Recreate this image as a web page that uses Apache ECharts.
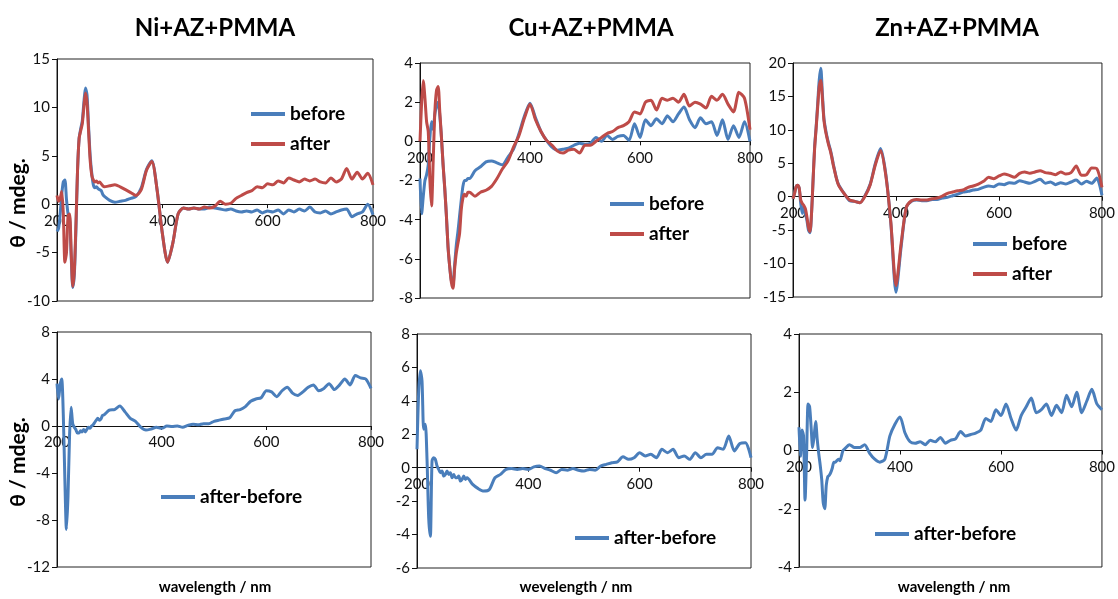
<!DOCTYPE html>
<html>
<head>
<meta charset="utf-8">
<script src="https://cdn.jsdelivr.net/npm/echarts@6/dist/echarts.min.js"></script>
<style>
  html, body { margin: 0; padding: 0; background: #fff; }
  #main { width: 1118px; height: 599px; }
</style>
</head>
<body>
<div id="main"></div>
<script>
// wavelength grid (nm)
var wavelength = [200,203,206,209,212,215,218,221,224,227,230,233,236,239,242,245,248,251,254,257,260,263,266,269,272,275,278,281,284,287,290,
  300,310,320,330,340,350,360,370,380,390,400,
  410,420,430,440,450,460,470,480,490,500,
  510,520,530,540,550,560,570,580,590,600,
  610,620,630,640,650,660,670,680,690,700,
  710,720,730,740,750,760,770,780,790,800];

// Ni+AZ+PMMA
var niBefore = [-2.8,-2.5,-1.0,1.0,2.3,2.5,0.5,-1.0,-1.5,-5.5,-8.6,-7.2,-2.5,3.5,6.8,7.8,8.6,10.5,12.0,11.3,8.0,5.0,3.2,2.0,1.7,1.8,1.6,1.5,1.4,1.0,0.8,
  0.4,0.2,0.3,0.4,0.6,0.8,1.7,3.6,4.5,1.5,-3.0,
  -6.0,-4.0,-1.0,-0.4,-0.5,-0.4,-0.5,-0.5,-0.3,-0.4,
  -0.5,-0.6,-0.5,-0.7,-0.8,-0.7,-0.8,-0.6,-0.9,-0.7,
  -0.8,-0.6,-1.0,-0.6,-0.8,-0.5,-0.7,-0.3,-0.8,-0.9,
  -0.7,-1.0,-0.8,-0.6,-0.5,-1.3,-1.0,-0.8,0.0,-1.1];
var niAfter = [0.9,0.3,0.6,1.3,-1.0,-6.0,-5.0,-1.2,-1.0,-5.0,-8.5,-6.8,-2.0,3.5,6.8,7.6,8.3,10.0,11.5,10.5,7.5,4.5,3.0,2.5,2.3,2.4,2.2,2.3,2.1,1.9,1.8,
  1.9,2.0,1.8,1.5,1.2,0.9,1.5,3.5,4.4,1.5,-3.0,
  -6.0,-4.0,-1.0,-0.4,-0.5,-0.4,-0.5,-0.3,-0.4,-0.2,
  0.3,0.0,0.1,0.6,0.9,1.2,1.4,1.8,1.7,2.1,
  2.0,2.4,2.2,2.7,2.5,2.3,2.6,2.4,2.6,2.3,
  2.2,2.7,2.3,2.6,3.7,2.6,3.3,2.6,3.2,2.0];
var niDiff = [3.6,2.3,3.5,4.0,1.0,-4.5,-8.8,-6.0,-0.8,1.6,0.2,-0.1,-0.3,-0.6,-0.6,-0.4,-0.5,-0.3,-0.5,-0.3,-0.1,-0.2,0.0,0.1,0.3,0.5,0.65,0.5,0.6,0.9,0.95,
  1.35,1.4,1.7,1.2,0.65,0.4,-0.1,-0.35,-0.25,-0.1,-0.2,
  0.0,-0.05,0.0,-0.1,0.05,0.15,0.1,0.2,0.2,0.4,
  0.5,0.6,0.7,1.3,1.4,1.65,2.1,2.3,2.4,3.0,
  2.9,2.5,3.0,3.3,2.8,2.6,2.9,3.3,3.5,3.0,
  3.2,3.6,3.1,3.5,4.0,3.5,4.3,4.1,4.0,3.2];

// Cu+AZ+PMMA
var cuBefore = [-1.9,-3.7,-2.8,-2.0,-1.7,-1.2,0.2,1.0,0.6,1.4,1.8,2.0,1.3,0.2,-1.2,-2.4,-3.8,-5.4,-6.4,-7.1,-7.3,-6.3,-5.3,-4.6,-3.8,-3.0,-2.3,-2.0,-2.0,-1.9,-1.9,
  -1.5,-1.3,-1.05,-1.0,-1.1,-1.2,-0.8,-0.4,0.4,1.3,1.95,
  1.2,0.5,0.05,-0.3,-0.45,-0.4,-0.35,-0.2,-0.1,-0.15,
  -0.1,0.2,0.0,0.3,0.1,0.25,0.3,0.05,0.9,0.2,
  1.1,0.8,1.15,0.9,1.3,1.0,1.4,1.75,1.1,0.7,
  1.2,0.9,1.0,0.3,1.1,0.1,0.8,0.2,1.0,0.0];
var cuAfter = [0.0,2.0,3.1,2.2,1.0,0.5,-2.0,-3.3,-1.0,1.5,2.6,2.8,1.5,0.2,-1.2,-2.4,-3.8,-5.4,-6.4,-7.2,-7.5,-6.5,-5.7,-5.2,-4.7,-3.5,-2.9,-2.7,-2.8,-2.6,-2.6,
  -2.8,-2.6,-2.5,-2.3,-1.9,-1.4,-1.0,-0.3,0.3,1.2,1.9,
  1.1,0.5,0.05,-0.2,-0.5,-0.6,-0.45,-0.4,-0.6,-0.2,
  -0.2,0.0,0.2,0.4,0.5,0.7,0.8,1.0,1.5,1.4,
  2.0,2.1,1.6,2.2,2.1,2.2,2.0,2.4,1.8,2.0,
  1.9,1.7,2.3,2.1,2.4,1.9,1.5,2.5,2.2,0.6];
var cuDiff = [1.1,4.5,5.8,5.2,2.3,2.6,0.5,-3.0,-4.1,0.4,0.6,0.5,0.1,-0.1,-0.3,-0.2,-0.5,-0.4,-0.2,-0.4,-0.3,-0.6,-0.4,-0.6,-0.6,-0.5,-0.8,-0.7,-0.5,-0.7,-0.6,
  -1.0,-1.25,-1.4,-1.3,-0.6,-0.4,-0.1,-0.05,-0.1,-0.05,-0.1,
  0.05,0.1,-0.05,-0.15,-0.3,-0.1,-0.15,-0.05,-0.15,-0.2,
  -0.1,-0.15,0.1,0.2,0.3,0.35,0.65,0.5,0.6,0.9,
  0.7,0.8,0.6,1.1,0.9,1.1,0.6,0.7,0.5,0.9,
  0.6,0.8,0.8,1.2,1.1,1.9,1.0,1.45,1.5,0.6];

// Zn+AZ+PMMA
var znBefore = [-0.3,0.5,1.5,1.7,1.3,-1.0,-2.5,-1.5,-2.5,-3.5,-5.0,-5.4,-2.5,2.5,7.5,10.5,14.0,17.5,19.2,15.5,11.8,10.2,9.0,8.0,7.2,6.2,5.0,3.9,2.9,2.1,1.6,
  0.4,-0.6,-0.7,-0.9,0.2,1.9,5.0,7.2,3.5,-4.0,-14.3,
  -7.5,-1.6,-0.7,-0.5,-0.6,-0.6,-0.4,-0.4,-0.2,-0.1,
  0.15,0.4,0.7,0.8,1.0,1.1,1.4,1.6,1.5,1.9,
  1.8,2.1,2.0,2.4,2.2,2.0,2.3,2.6,2.0,2.2,
  1.8,2.1,1.9,2.2,2.5,1.9,2.3,2.0,2.8,0.2];
var znAfter = [-0.3,0.5,1.5,1.7,1.3,-0.5,-1.0,-1.3,-1.8,-3.0,-4.6,-5.2,-2.5,2.5,7.2,10.3,13.5,16.5,17.4,14.8,11.5,9.9,8.8,7.8,7.0,6.0,4.8,3.8,2.8,2.0,1.5,
  0.4,-0.5,-0.7,-0.9,0.1,1.8,4.8,6.9,3.3,-3.8,-13.3,
  -7.0,-1.6,-0.6,-0.4,-0.5,-0.5,-0.3,-0.2,0.1,0.5,
  0.7,0.9,1.0,1.4,1.6,1.9,2.3,2.9,2.7,3.1,
  3.4,3.2,2.9,3.5,3.7,3.5,3.7,3.9,3.6,3.5,
  3.3,3.7,3.4,3.6,4.6,3.2,3.3,4.3,4.2,1.4];
var znDiff = [0.8,-0.2,0.7,0.5,-1.7,-0.2,1.6,1.5,0.8,0.1,0.5,1.0,0.4,-0.1,-0.5,-1.0,-1.8,-2.0,-1.2,-0.9,-0.85,-0.75,-0.6,-0.4,-0.4,-0.35,-0.3,-0.35,-0.2,0.0,0.05,
  0.2,0.1,0.1,0.2,-0.1,-0.3,-0.4,-0.3,0.5,0.9,1.15,
  0.6,0.3,0.25,0.3,0.2,0.35,0.3,0.45,0.25,0.35,
  0.4,0.65,0.5,0.55,0.6,0.7,1.1,1.0,1.4,1.2,
  1.6,1.1,0.7,1.2,1.5,1.8,1.3,1.4,1.6,1.2,
  1.55,1.3,1.9,1.5,2.0,1.3,1.7,2.1,1.6,1.4];

var titles = ['Ni+AZ+PMMA', 'Cu+AZ+PMMA', 'Zn+AZ+PMMA'];
var xNames = ['wavelength / nm', 'wevelength / nm', 'wavelength / nm'];
var yName = 'θ / mdeg.';

var BLUE = '#4A7EBB';
var RED = '#BE4B48';
var FONT = 'Lato, "Open Sans", sans-serif';

var panels = [
  { box: [57, 59, 316, 242], y: [-10, 15, 5], lines: [['before', niBefore, BLUE], ['after', niAfter, RED]], leg: [251, 104] },
  { box: [420, 63, 330, 235], y: [-8, 4, 2], lines: [['before', cuBefore, BLUE], ['after', cuAfter, RED]], leg: [610, 194] },
  { box: [793, 63, 310, 234], y: [-15, 20, 5], lines: [['before', znBefore, BLUE], ['after', znAfter, RED]], leg: [973, 234] },
  { box: [57, 332, 314, 235], y: [-12, 8, 4], lines: [['after-before', niDiff, BLUE]], leg: [161, 487] },
  { box: [417, 334, 334, 234], y: [-6, 8, 2], lines: [['after-before', cuDiff, BLUE]], leg: [575, 528] },
  { box: [799, 334, 308, 233], y: [-4, 4, 2], lines: [['after-before', znDiff, BLUE]], leg: [875, 524] }
];

function pairs(arr) {
  return wavelength.map(function (w, i) { return [w, arr[i]]; });
}

var grids = [], xAxes = [], yAxes = [], series = [], legends = [];
panels.forEach(function (p, i) {
  grids.push({
    left: p.box[0], top: p.box[1], width: p.box[2], height: p.box[3],
    show: true, borderColor: '#222', borderWidth: 1, backgroundColor: 'transparent'
  });
  // x axis sits on the y = 0 line, labels included (Excel style)
  var zeroOffset = -p.box[3] * (0 - p.y[0]) / (p.y[1] - p.y[0]);
  xAxes.push({
    gridIndex: i, type: 'value', min: 200, max: 800, interval: 200,
    position: 'bottom', offset: zeroOffset,
    axisLine: { onZero: false, lineStyle: { color: '#111', width: 1 } },
    axisTick: { show: true, length: 4, lineStyle: { color: '#111' } },
    axisLabel: { color: '#111', fontSize: 15, margin: 9, fontFamily: FONT },
    splitLine: { show: false }
  });
  yAxes.push({
    gridIndex: i, type: 'value', min: p.y[0], max: p.y[1], interval: p.y[2],
    axisLine: { show: true, onZero: false, lineStyle: { color: '#111', width: 1 } },
    axisTick: { show: true, length: 5, lineStyle: { color: '#111' } },
    axisLabel: { color: '#111', fontSize: 15, margin: 7, fontFamily: FONT },
    splitLine: { show: false }
  });
  var names = [];
  p.lines.forEach(function (s) {
    names.push(s[0]);
    series.push({
      name: s[0], type: 'line', xAxisIndex: i, yAxisIndex: i,
      data: pairs(s[1]), color: s[2],
      showSymbol: false, smooth: 0.25,
      lineStyle: { width: 3, color: s[2] },
      animation: false
    });
  });
  legends.push({
    data: names, orient: 'vertical', left: p.leg[0], top: p.leg[1], padding: 0,
    icon: 'rect', itemWidth: 34, itemHeight: 4, itemGap: 10,
    selectedMode: false,
    textStyle: { fontSize: 19, fontWeight: 'bold', color: '#000', fontFamily: FONT, lineHeight: 20 }
  });
});

var graphics = [];
var titleX = [215, 591, 957];
var xNameX = [215, 576, 954];
titles.forEach(function (t, i) {
  graphics.push({ type: 'text', x: titleX[i], y: 28,
    style: { text: t, font: 'bold 24px ' + FONT, fill: '#000', align: 'center', verticalAlign: 'middle' } });
  graphics.push({ type: 'text', x: xNameX[i], y: 587,
    style: { text: xNames[i], font: 'bold 15px ' + FONT, fill: '#000', align: 'center', verticalAlign: 'middle' } });
});
[203, 462].forEach(function (cy) {
  graphics.push({ type: 'text', x: 18, y: cy, rotation: Math.PI / 2,
    style: { text: yName, font: 'bold 21px ' + FONT, fill: '#000', align: 'center', verticalAlign: 'middle' } });
});

var chart = echarts.init(document.getElementById('main'), null, { renderer: 'canvas' });
chart.setOption({
  backgroundColor: '#fff',
  animation: false,
  textStyle: { fontFamily: FONT },
  grid: grids,
  xAxis: xAxes,
  yAxis: yAxes,
  legend: legends,
  series: series,
  graphic: graphics
});
</script>
</body>
</html>
